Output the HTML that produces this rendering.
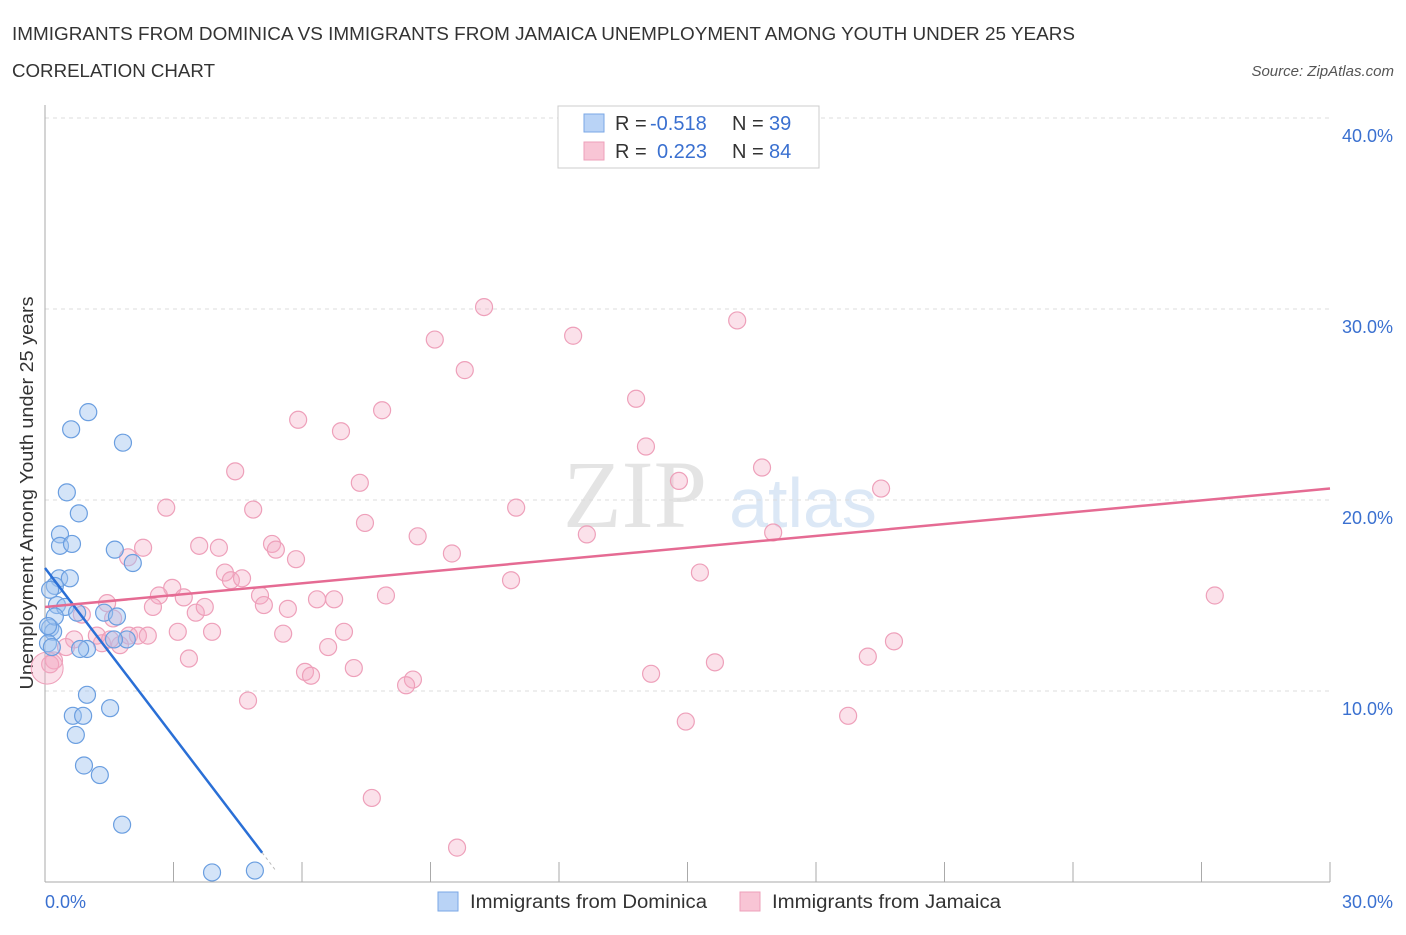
<!DOCTYPE html>
<html><head><meta charset="utf-8"><style>
body{margin:0;background:#fff;font-family:"Liberation Sans",sans-serif}
</style></head><body>
<svg id="c" width="1406" height="930" xmlns="http://www.w3.org/2000/svg">
<text x="12" y="40" font-size="18" fill="#333" textLength="1063" lengthAdjust="spacingAndGlyphs">IMMIGRANTS FROM DOMINICA VS IMMIGRANTS FROM JAMAICA UNEMPLOYMENT AMONG YOUTH UNDER 25 YEARS</text>
<text x="12" y="77" font-size="18" fill="#333" textLength="203" lengthAdjust="spacingAndGlyphs">CORRELATION CHART</text>
<text x="1394" y="76" font-size="15" fill="#555" font-style="italic" text-anchor="end">Source: ZipAtlas.com</text>
<text x="635" y="527" font-size="96" fill="#e4e4e4" font-family="Liberation Serif" text-anchor="middle">ZIP</text>
<text x="803" y="527" font-size="70" fill="#dce8f6" text-anchor="middle">atlas</text>
<text transform="translate(33,493) rotate(-90)" font-size="18" fill="#333" text-anchor="middle" textLength="393" lengthAdjust="spacingAndGlyphs">Unemployment Among Youth under 25 years</text>
<g id="grid"></g><g id="pts"></g><g id="lines"></g>
<rect x="558" y="106" width="261" height="62" fill="#fff" stroke="#ccc"/>
<rect x="584" y="114" width="20" height="18" fill="#b9d3f6" stroke="#7aa7e6"/>
<rect x="584" y="142" width="20" height="18" fill="#f8c5d5" stroke="#eea0ba"/>
<text y="130" font-size="20"><tspan x="615" fill="#333">R = </tspan><tspan x="650" fill="#3a70d0">-0.518</tspan><tspan x="732" fill="#333">N = </tspan><tspan x="769" fill="#3a70d0">39</tspan></text>
<text y="158" font-size="20"><tspan x="615" fill="#333">R = </tspan><tspan x="657" fill="#3a70d0">0.223</tspan><tspan x="732" fill="#333">N = </tspan><tspan x="769" fill="#3a70d0">84</tspan></text>
<rect x="438" y="892" width="20" height="19" fill="#b9d3f6" stroke="#7aa7e6"/>
<text x="470" y="908" font-size="19" fill="#333" textLength="237" lengthAdjust="spacingAndGlyphs">Immigrants from Dominica</text>
<rect x="740" y="892" width="20" height="19" fill="#f8c5d5" stroke="#eea0ba"/>
<text x="772" y="908" font-size="19" fill="#333" textLength="229" lengthAdjust="spacingAndGlyphs">Immigrants from Jamaica</text>
<text x="45" y="908" font-size="18" fill="#3a70d0">0.0%</text>
<text x="1393" y="908" font-size="18" fill="#3a70d0" text-anchor="end">30.0%</text>
</svg>
<script>
const yTicks=[10,20,30,40];
const yTickLabels=["10.0%","20.0%","30.0%","40.0%"];
const domX=[1.01,0.61,1.82,0.51,0.79,0.35,0.35,0.63,1.63,2.05,0.33,0.58,0.23,0.28,0.47,1.38,0.75,0.12,0.19,0.23,1.91,1.61,0.98,0.82,0.07,0.16,0.98,0.65,0.89,0.72,1.52,0.91,1.28,1.80,3.90,4.90,0.12,0.07,1.68];
const domY=[24.6,23.7,23.0,20.4,19.3,18.2,17.6,17.7,17.4,16.7,15.9,15.9,15.5,14.5,14.4,14.1,14.1,13.3,13.1,13.9,12.7,12.7,12.2,12.2,12.5,12.3,9.8,8.7,8.7,7.7,9.1,6.1,5.6,3.0,0.5,0.6,15.3,13.4,13.9];
const jamX=[10.25,16.16,12.33,9.10,9.80,13.80,7.87,5.91,6.91,14.03,4.44,16.74,14.80,7.35,19.52,2.83,4.86,11.00,7.47,17.00,12.65,8.70,2.29,3.60,4.06,5.30,5.39,1.94,9.50,5.86,4.20,4.34,4.60,15.29,2.97,10.88,2.66,3.24,5.02,7.96,6.75,6.35,1.45,3.52,2.52,5.11,3.73,5.67,27.31,0.86,1.59,3.10,3.90,5.56,6.98,1.96,2.17,2.40,1.33,19.82,6.61,0.68,0.49,3.36,0.21,19.21,15.64,6.07,7.21,6.21,14.15,8.59,8.43,4.74,14.96,18.75,7.63,9.62,1.21,1.75,0.12,1.52];
const jamY=[30.1,29.4,28.6,28.4,26.8,25.3,24.7,24.2,23.6,22.8,21.5,21.7,21.0,20.9,20.6,19.6,19.5,19.6,18.8,18.3,18.2,18.1,17.5,17.6,17.5,17.7,17.4,17.0,17.2,16.9,16.2,15.8,15.9,16.2,15.4,15.8,15.0,14.9,15.0,15.0,14.8,14.8,14.6,14.1,14.4,14.5,14.4,14.3,15.0,14.0,13.8,13.1,13.1,13.0,13.1,12.9,12.9,12.9,12.5,12.6,12.3,12.7,12.3,11.7,11.6,11.8,11.5,11.0,11.2,10.8,10.9,10.6,10.3,9.5,8.4,8.7,4.4,1.8,12.9,12.4,11.4,12.7];
const domLine=[16.44,-2.94,0,5.07,5.4];
const jamLine=[14.4,20.6];
const X=v=>45+v/30*1285, Y=v=>882-v*19.1;
const NS="http://www.w3.org/2000/svg";
function mk(t,a,p){const e=document.createElementNS(NS,t);for(const k in a)e.setAttribute(k,a[k]);p.appendChild(e);return e;}
const g=document.getElementById('grid');
yTicks.forEach((t,i)=>{
 const l=mk('line',{x1:45,x2:1330,y1:Y(t),y2:Y(t),stroke:'#ddd','stroke-dasharray':'4,4'},g);
 
 
 const tx=mk('text',{x:1393,y:Y(t)+24,'font-size':18,fill:'#3a70d0','text-anchor':'end'},g);
 tx.textContent=yTickLabels[i];
 
 
});
const ax=mk('line',{x1:45,x2:45,y1:105,y2:882,stroke:'#aaa'},g);


const bx=mk('line',{x1:45,x2:1330,y1:882,y2:882,stroke:'#aaa'},g);


for(let i=1;i<=10;i++){const t=mk('line',{x1:X(i*3),x2:X(i*3),y1:862,y2:882,stroke:'#aaa'},g);
 
 }
const p=document.getElementById('pts');
jamX.forEach((x,i)=>{const c=mk('circle',{cx:X(x),cy:Y(jamY[i]),r:8.5,fill:'rgba(244,170,195,0.35)',stroke:'#eea0ba','stroke-width':1.2},p);
 
 });
const big=mk('circle',{cx:X(0.05),cy:Y(11.2),r:16,fill:'rgba(244,170,195,0.35)',stroke:'#eea0ba'},p);


domX.forEach((x,i)=>{const c=mk('circle',{cx:X(x),cy:Y(domY[i]),r:8.5,fill:'rgba(160,196,240,0.45)',stroke:'#6a9ee0','stroke-width':1.2},p);
 
 });
const L=document.getElementById('lines');
const dl=mk('line',{x1:X(domLine[2]),y1:Y(domLine[0]),x2:X(domLine[3]),y2:Y(domLine[0]+domLine[1]*domLine[3]),stroke:'#2a6fd6','stroke-width':2.5},L);


const dd=mk('line',{x1:X(domLine[3]),y1:Y(domLine[0]+domLine[1]*domLine[3]),x2:X(domLine[4]),y2:Y(domLine[0]+domLine[1]*domLine[4]),stroke:'#bbb','stroke-width':1,'stroke-dasharray':'3,3'},L);


const jl=mk('line',{x1:X(0),y1:Y(jamLine[0]),x2:X(30),y2:Y(jamLine[1]),stroke:'#e56b93','stroke-width':2.5},L);


</script>
</body></html>
